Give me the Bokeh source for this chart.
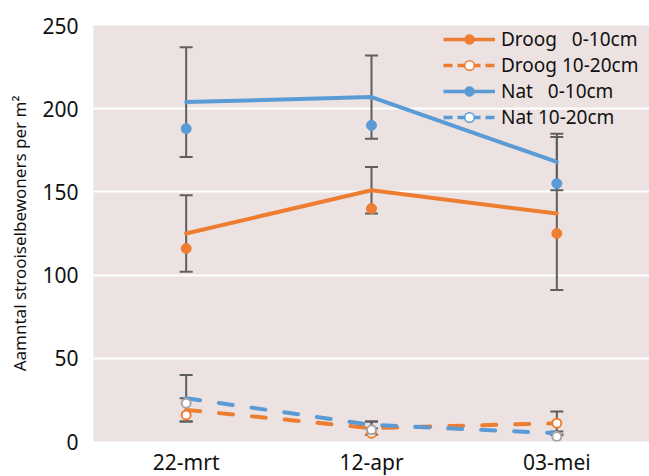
from bokeh.plotting import figure
from bokeh.models import (ColumnDataSource, Whisker, TeeHead, Legend, LegendItem,
                          Range1d, FixedTicker)
from bokeh.embed import file_html
from bokeh.resources import INLINE

# ---- data ----
dates = ["22-mrt", "12-apr", "03-mei"]
y_ticks = [0, 50, 100, 150, 200, 250]

droog_0_10_line = [125, 151, 137]
droog_0_10_point = [116, 140, 125]
droog_0_10_err = [23, 14, 46]

droog_10_20_line = [19, 8, 11]
droog_10_20_point = [16, 5, 11]
droog_10_20_err = [7, 4, 7]

nat_0_10_line = [204, 207, 168]
nat_0_10_point = [188, 190, 155]
nat_0_10_err = [33, 25, 17]

nat_10_20_line = [26, 10, 5]
nat_10_20_point = [23, 7, 3]
nat_10_20_err = [14, 2, 1]

labels = ["Droog   0-10cm", "Droog 10-20cm",
          "Nat   0-10cm", "Nat 10-20cm"]

ORANGE = "#ED7D31"
BLUE = "#5B9BD5"
GRAY = "#5f5f5f"
OPEN_GRAY = "#A5A5A5"
FONT = "Noto Sans"
TEXT = "#111111"

xs = list(range(len(dates)))
NAN = float("nan")

p = figure(frame_width=556, frame_height=416, output_backend="svg", toolbar_location=None,
           x_range=Range1d(-0.5, 2.5), y_range=Range1d(0, 250),
           min_border_left=93, min_border_right=0, min_border_top=25, min_border_bottom=35)
p.background_fill_color = "#ECE2E2"
p.border_fill_color = "white"
p.outline_line_color = None

# axes
p.xaxis.ticker = FixedTicker(ticks=xs)
p.xaxis.major_label_overrides = {i: d for i, d in zip(xs, dates)}
p.yaxis.ticker = FixedTicker(ticks=y_ticks)
for ax in (p.xaxis[0], p.yaxis[0]):
    ax.axis_line_color = None
    ax.major_tick_line_color = None
    ax.minor_tick_line_color = None
    ax.major_label_text_font = FONT
    ax.major_label_text_font_size = "21px"
    ax.major_label_text_color = TEXT
p.xaxis.major_label_standoff = 0
p.yaxis.major_label_standoff = 9
p.yaxis.axis_label = "Aamntal strooiselbewoners per m²"
p.yaxis.axis_label_text_font = FONT
p.yaxis.axis_label_text_font_size = "17px"
p.yaxis.axis_label_text_font_style = "normal"
p.yaxis.axis_label_text_color = TEXT
p.yaxis.axis_label_standoff = 8

p.xgrid.grid_line_color = None
p.ygrid.grid_line_color = "white"
p.ygrid.grid_line_width = 2

series = [
    (droog_0_10_line, droog_0_10_point, droog_0_10_err, ORANGE, "solid", True, ORANGE),
    (droog_10_20_line, droog_10_20_point, droog_10_20_err, ORANGE, "14 19", False, ORANGE),
    (nat_0_10_line, nat_0_10_point, nat_0_10_err, BLUE, "solid", True, BLUE),
    (nat_10_20_line, nat_10_20_point, nat_10_20_err, BLUE, "14 19", False, OPEN_GRAY),
]

# error bars first
for line_vals, pt_vals, err, col, dash, filled, mcol in series:
    src = ColumnDataSource(dict(x=xs,
                                upper=[v + e for v, e in zip(line_vals, err)],
                                lower=[v - e for v, e in zip(line_vals, err)]))
    w = Whisker(base="x", upper="upper", lower="lower", source=src,
                line_color=GRAY, line_width=2,
                upper_head=TeeHead(size=13, line_color=GRAY, line_width=2),
                lower_head=TeeHead(size=13, line_color=GRAY, line_width=2))
    p.add_layout(w)

# lines
for line_vals, pt_vals, err, col, dash, filled, mcol in series:
    p.line(xs, line_vals, line_color=col, line_width=4, line_dash=dash, line_cap="round")

# markers
for line_vals, pt_vals, err, col, dash, filled, mcol in series:
    if filled:
        p.scatter(xs, pt_vals, size=10, fill_color=mcol, line_color=mcol)
    else:
        p.scatter(xs, pt_vals, size=9, fill_color="white", line_color=mcol, line_width=2)

# legend: proxy renderers with NaN values (not drawn in the plot)
items = []
for (line_vals, pt_vals, err, col, dash, filled, mcol), lab in zip(series, labels):
    nan_y = [NAN] * len(xs)
    lr = p.line(xs, nan_y, line_color=col, line_width=3.5,
                line_dash="solid" if filled else "9 5")
    if filled:
        sr = p.scatter(xs, nan_y, size=6, fill_color=col, line_color=col)
    else:
        sr = p.scatter(xs, nan_y, size=7, fill_color="white", line_color=col, line_width=1.5)
    items.append(LegendItem(label=lab, renderers=[lr, sr]))

legend = Legend(items=items, location=(350, 311), margin=0, padding=0, spacing=0,
                glyph_width=52, glyph_height=24, label_height=24, label_standoff=6,
                label_text_font=FONT, label_text_font_size="19px", label_text_color=TEXT,
                background_fill_alpha=0, border_line_color=None)
p.add_layout(legend)

open("out.html", "w").write(file_html(p, INLINE))
